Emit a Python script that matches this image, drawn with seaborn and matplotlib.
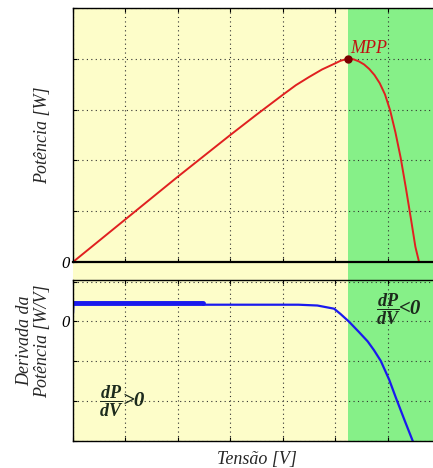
import numpy as np
import matplotlib
matplotlib.use("Agg")
import matplotlib.pyplot as plt
import seaborn as sns

# power curve P(V), grid units
tensao = [0, 0.5, 1, 1.5, 2, 2.5, 3, 3.5, 4, 4.25, 4.5, 4.75, 5.0, 5.1, 5.2,
          5.25, 5.35, 5.45, 5.55, 5.65, 5.75, 5.85, 5.95, 6.05, 6.15, 6.25,
          6.35, 6.45, 6.53, 6.6]
potencia = [0, 0.42, 0.84, 1.26, 1.68, 2.09, 2.5, 2.9, 3.29, 3.48, 3.64, 3.79,
            3.91, 3.96, 3.99, 4.0, 3.99, 3.95, 3.89, 3.8, 3.68, 3.52, 3.3,
            2.98, 2.55, 2.05, 1.45, 0.82, 0.3, 0]

# derivative dP/dV
tensao_d = [0, 0.01, 2.47, 2.48, 4.3, 4.66, 4.98, 5.1, 5.26, 5.45, 5.62,
            5.74, 5.87, 6.03, 6.16, 6.33, 6.51, 6.6]
derivada = [0.2, 0.47, 0.47, 0.42, 0.42, 0.40, 0.32, 0.19, 0.0, -0.26, -0.5,
            -0.72, -0.99, -1.46, -1.92, -2.5, -3.1, -3.4]

mpp_v = 5.25
mpp_p = 4.0

amarelo = "#fdfdc9"
verde = "#86f088"

sns.set_theme(style="white")
plt.rcParams["font.family"] = ["Liberation Serif", "DejaVu Serif"]
plt.rcParams["font.style"] = "italic"
plt.rcParams["mathtext.fontset"] = "custom"
plt.rcParams["mathtext.it"] = "Liberation Serif:italic"
plt.rcParams["mathtext.rm"] = "Liberation Serif:italic"
plt.rcParams["mathtext.bf"] = "Liberation Serif:italic:bold"

fig = plt.figure(figsize=(4.33, 4.68), dpi=100)
fig.patch.set_facecolor("white")

L, W = 0.1686, 0.8476
# coloured background spanning both axes and the gap between them
bg = fig.add_axes([L, 0.0577, W, 0.9252], zorder=0)
bg.set_xlim(0, 7)
bg.axvspan(0, mpp_v, color=amarelo, lw=0)
bg.axvspan(mpp_v, 7, color=verde, lw=0)
bg.axis("off")

ax1 = fig.add_axes([L, 0.4402, W, 0.5427], zorder=1)
ax2 = fig.add_axes([L, 0.0577, W, 0.344], zorder=1)

grid_kw = dict(color="#303030", lw=0.8, ls=(0, (1, 3)))
for ax in (ax1, ax2):
    ax.set_facecolor("none")
    ax.set_xlim(0, 7)
    ax.set_xticks(range(8))
    ax.set_xticklabels([])
    ax.grid(True, **grid_kw)
    ax.tick_params(direction="in", length=3, width=0.8, top=True, right=True,
                   left=True, bottom=True, pad=2, labelsize=12, colors="black")
    for s in ax.spines.values():
        s.set_color("black")
        s.set_linewidth(1.0)

sns.lineplot(x=tensao, y=potencia, ax=ax1, color="#e02020", lw=1.4, sort=False)
ax1.plot([mpp_v], [mpp_p], "o", color="#7a0000", ms=5, zorder=5)
ax1.set_ylim(0, 5)
ax1.set_yticks(range(6))
ax1.set_yticklabels(["0", "", "", "", "", ""])
ax1.spines["bottom"].set_linewidth(1.6)
ax1.text(mpp_v + 0.03, mpp_p + 0.12, "MPP", color="#c01010", fontsize=13,
         ha="left", va="baseline")
ax1.set_ylabel("Potência [W]", fontsize=13, va="center")
ax1.yaxis.set_label_coords(-0.082, 0.5)

sns.lineplot(x=tensao_d, y=derivada, ax=ax2, color="#1a1aee", lw=1.6, sort=False)
ax2.plot(tensao_d[1:3], derivada[1:3], color="#1a1aee", lw=3.5)
ax2.set_ylim(-2.98, 1.04)
ax2.set_yticks([1, 0, -1, -2, -3])
ax2.set_yticklabels(["", "0", "", "", ""])

# fraction labels, with the comparison in a larger separate text
frac = r"$\mathbf{\dfrac{dP}{dV}}$"
tc = "#1c2a1c"
ax2.text(5.78, 0.3, frac, fontsize=13, color=tc, ha="left", va="center")
ax2.text(6.22, 0.3, "<0", fontsize=15, color=tc, ha="left", va="center",
         fontweight="bold")
ax2.text(0.5, -2.0, frac, fontsize=13, color=tc, ha="left", va="center")
ax2.text(0.94, -2.0, ">0", fontsize=15, color=tc, ha="left", va="center",
         fontweight="bold")

ax2.set_ylabel("Derivada da\nPotência [W/V]", fontsize=13, va="center",
               linespacing=1.05)
ax2.yaxis.set_label_coords(-0.108, 0.62)
ax2.set_xlabel("Tensão [V]", fontsize=13, va="center")
ax2.xaxis.set_label_coords(0.5, -0.115)

fig.savefig("out.png", dpi=100)
